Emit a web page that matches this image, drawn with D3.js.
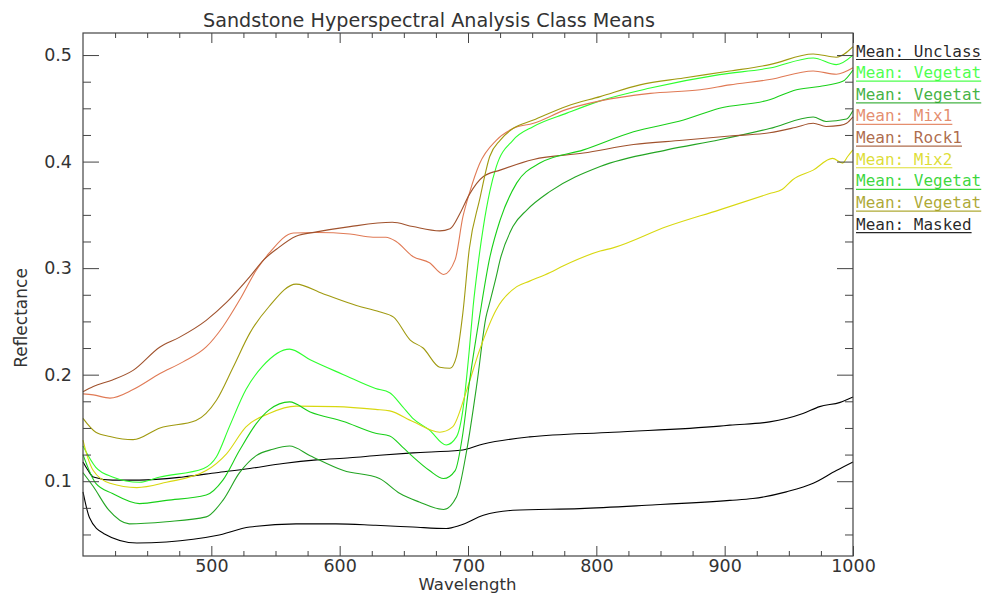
<!DOCTYPE html>
<html><head><meta charset="utf-8">
<script src="https://cdn.jsdelivr.net/npm/d3@7"></script>
<style>
html,body{margin:0;padding:0;background:#fff;}
svg{display:block;}
</style></head>
<body>
<svg id="chart" width="991" height="597"></svg>
<script>
// ---- data (wavelength nm, reflectance) ----
const unclass = [[400,0.118],[404,0.110],[408,0.104],[423,0.101],[444,0.101],[478,0.104],[504,0.108],[530,0.112],[556,0.1166],[582,0.120],[608,0.122],[631,0.1244],[657,0.1266],[694,0.129],[712,0.135],[748,0.1416],[813,0.146],[896,0.1517],[904,0.1526],[935,0.1557],[961,0.1636],[974,0.170],[990,0.174],[1000,0.179]];
const vegetatA = [[400,0.133],[410,0.113],[423,0.104],[444,0.099],[460,0.104],[494,0.112],[504,0.123],[514,0.151],[527,0.186],[540,0.208],[561,0.224],[577,0.214],[603,0.200],[628,0.187],[639,0.183],[649,0.170],[657,0.159],[670,0.148],[683,0.134],[691,0.1416],[696,0.1667],[701,0.223],[704,0.264],[708,0.305],[712,0.339],[717,0.372],[722,0.395],[735,0.420],[751,0.433],[777,0.4455],[803,0.457],[842,0.469],[896,0.4816],[935,0.4878],[969,0.4973],[987,0.491],[1000,0.500]];
const vegetatB = [[400,0.108],[408,0.095],[420,0.073],[436,0.060],[465,0.062],[496,0.0665],[509,0.082],[522,0.108],[535,0.124],[548,0.130],[561,0.133],[577,0.124],[603,0.110],[631,0.1025],[647,0.0884],[662,0.0805],[681,0.0734],[691,0.0852],[699,0.129],[707,0.192],[714,0.254],[717,0.268],[722,0.292],[725,0.3077],[735,0.339],[746,0.3547],[764,0.372],[803,0.3954],[855,0.411],[896,0.4205],[935,0.431],[969,0.4418],[979,0.4377],[995,0.440],[1000,0.448]];
const mix1 = [[400,0.182],[408,0.181],[421,0.178],[439,0.186],[460,0.201],[478,0.212],[496,0.226],[509,0.245],[522,0.270],[535,0.298],[545,0.314],[564,0.333],[582,0.3334],[608,0.332],[626,0.329],[636,0.329],[644,0.325],[657,0.311],[670,0.305],[681,0.294],[690,0.308],[696,0.348],[701,0.370],[709,0.398],[722,0.420],[735,0.431],[751,0.436],[777,0.449],[803,0.457],[842,0.464],[881,0.4675],[904,0.472],[935,0.477],[969,0.485],[987,0.482],[1000,0.488]];
const rock1 = [[400,0.184],[408,0.189],[423,0.195],[439,0.204],[460,0.226],[475,0.235],[496,0.251],[512,0.268],[530,0.292],[541,0.308],[551,0.318],[566,0.330],[582,0.334],[608,0.339],[641,0.343],[657,0.339],[678,0.335],[686,0.337],[694,0.352],[701,0.369],[712,0.386],[725,0.392],[751,0.402],[790,0.408],[829,0.416],[867,0.420],[904,0.424],[935,0.427],[955,0.432],[969,0.436],[979,0.433],[990,0.434],[995,0.436],[1000,0.442]];
const mix2 = [[400,0.1385],[403,0.125],[408,0.110],[421,0.098],[442,0.094],[465,0.099],[496,0.110],[512,0.126],[527,0.151],[545,0.1636],[566,0.1705],[597,0.170],[628,0.1674],[639,0.166],[657,0.156],[678,0.146],[688,0.151],[699,0.1855],[709,0.223],[722,0.261],[738,0.2826],[748,0.2878],[764,0.296],[774,0.302],[803,0.316],[813,0.319],[855,0.339],[896,0.3547],[935,0.370],[945,0.374],[953,0.383],[969,0.392],[984,0.403],[992,0.3986],[996,0.405],[1000,0.411]];
const vegetatC = [[400,0.125],[410,0.098],[423,0.0885],[444,0.079],[465,0.082],[496,0.087],[509,0.101],[522,0.129],[535,0.154],[545,0.167],[561,0.1745],[577,0.165],[603,0.156],[628,0.145],[639,0.1425],[649,0.132],[657,0.123],[670,0.110],[681,0.1025],[690,0.110],[696,0.1448],[701,0.192],[709,0.2544],[717,0.310],[725,0.345],[738,0.380],[756,0.3986],[790,0.411],[829,0.428],[868,0.439],[896,0.450],[935,0.458],[956,0.4675],[974,0.4705],[992,0.4753],[1000,0.486]];
const vegetatD = [[400,0.159],[410,0.146],[421,0.142],[439,0.139],[460,0.150],[488,0.157],[504,0.176],[517,0.207],[530,0.239],[545,0.264],[566,0.285],[587,0.276],[613,0.265],[631,0.259],[642,0.254],[655,0.2325],[665,0.225],[678,0.207],[686,0.206],[691,0.217],[696,0.258],[701,0.318],[709,0.364],[717,0.405],[725,0.420],[735,0.431],[751,0.439],[777,0.452],[803,0.461],[834,0.472],[868,0.4785],[904,0.485],[935,0.491],[969,0.501],[987,0.498],[1000,0.508]];
const masked = [[400,0.090],[405,0.066],[416,0.051],[442,0.042],[465,0.043],[504,0.049],[530,0.057],[566,0.060],[597,0.060],[628,0.0586],[657,0.057],[683,0.0556],[694,0.0586],[712,0.068],[735,0.0727],[787,0.0743],[839,0.0774],[904,0.082],[922,0.0837],[948,0.090],[969,0.098],[987,0.110],[1000,0.118]];

const legendLabels = ["Mean: Unclass","Mean: Vegetat","Mean: Vegetat","Mean: Mix1","Mean: Rock1","Mean: Mix2","Mean: Vegetat","Mean: Vegetat","Mean: Masked"];
const seriesColors = ["#000000","#2eff2e","#23a523","#e07a55","#a0522d","#d8d810","#18d018","#a09a10","#000000"];
const seriesData = [unclass, vegetatA, vegetatB, mix1, rock1, mix2, vegetatC, vegetatD, masked];

const xMajor = [500,600,700,800,900,1000];
const xMinor = [425,450,475,525,550,575,625,650,675,725,750,775,825,850,875,925,950,975];
const yMajor = [0.1,0.2,0.3,0.4,0.5];
const yMinor = [0.05,0.075,0.125,0.15,0.175,0.225,0.25,0.275,0.325,0.35,0.375,0.425,0.45,0.475];

// ---- drawing ----
const svg = d3.select("#chart");
const L = 83, R = 853, T = 33, B = 556;
const x = d3.scaleLinear().domain([400,1000]).range([L,R]);
const y = d3.scaleLinear().domain([0.0298,0.5207]).range([B,T]);
const axisColor = "#444";
const font = "'DejaVu Sans', sans-serif";

svg.append("rect").attr("width",991).attr("height",597).attr("fill","#fff");

const line = d3.line().x(d=>x(d[0])).y(d=>y(d[1])).curve(d3.curveMonotoneX);
const g = svg.append("g");
seriesData.forEach((s,i)=>{
  g.append("path").datum(s).attr("d",line).attr("fill","none")
   .attr("stroke",seriesColors[i]).attr("stroke-width",1.1);
});

function styleAxis(sel){
  sel.select(".domain").remove();
  sel.selectAll("line").attr("stroke",axisColor);
  sel.selectAll("text").attr("fill","#333").style("font-family",font).style("font-size","17.5px");
}
svg.append("g").attr("transform",`translate(0,${B})`)
  .call(d3.axisBottom(x).tickValues(xMajor).tickSize(-10).tickPadding(4).tickFormat(d3.format("d"))).call(styleAxis);
svg.append("g").attr("transform",`translate(0,${B})`)
  .call(d3.axisBottom(x).tickValues(xMinor).tickSize(-5).tickFormat("")).call(styleAxis);
svg.append("g").attr("transform",`translate(0,${T})`)
  .call(d3.axisTop(x).tickValues(xMajor).tickSize(-10).tickFormat("")).call(styleAxis);
svg.append("g").attr("transform",`translate(0,${T})`)
  .call(d3.axisTop(x).tickValues(xMinor).tickSize(-5).tickFormat("")).call(styleAxis);
svg.append("g").attr("transform",`translate(${L},0)`)
  .call(d3.axisLeft(y).tickValues(yMajor).tickSize(-16).tickPadding(11).tickFormat(d3.format(".1f"))).call(styleAxis);
svg.append("g").attr("transform",`translate(${L},0)`)
  .call(d3.axisLeft(y).tickValues(yMinor).tickSize(-8).tickFormat("")).call(styleAxis);
svg.append("g").attr("transform",`translate(${R},0)`)
  .call(d3.axisRight(y).tickValues(yMajor).tickSize(-16).tickFormat("")).call(styleAxis);
svg.append("g").attr("transform",`translate(${R},0)`)
  .call(d3.axisRight(y).tickValues(yMinor).tickSize(-8).tickFormat("")).call(styleAxis);

svg.append("rect").attr("x",L).attr("y",T).attr("width",R-L).attr("height",B-T)
  .attr("fill","none").attr("stroke",axisColor).attr("stroke-width",1.2);

// title & axis labels
svg.append("text").attr("x",429).attr("y",26.5).attr("text-anchor","middle")
  .attr("textLength",452).attr("lengthAdjust","spacingAndGlyphs")
  .style("font-family",font).style("font-size","19px").attr("fill","#333")
  .text("Sandstone Hyperspectral Analysis Class Means");
svg.append("text").attr("x",467.5).attr("y",590).attr("text-anchor","middle")
  .style("font-family",font).style("font-size","16.5px").attr("fill","#333").text("Wavelength");
svg.append("text").attr("transform","translate(27,318) rotate(-90)").attr("text-anchor","middle")
  .style("font-family",font).style("font-size","17px").attr("fill","#333").text("Reflectance");

// legend
const lg = svg.append("g");
legendLabels.forEach((t,i)=>{
  const by = 56.5 + i*21.65;
  const tx = lg.append("text").attr("x",856).attr("y",by)
    .style("font-family","'DejaVu Sans Mono', monospace").style("font-size","16px")
    .attr("fill",seriesColors[i]).attr("fill-opacity",0.85).text(t);
  const w = tx.node().getComputedTextLength();
  lg.append("line").attr("x1",856).attr("x2",856+w).attr("y1",by+3).attr("y2",by+3)
    .attr("stroke",seriesColors[i]).attr("stroke-opacity",0.85).attr("stroke-width",1.2);
});
</script>
</body></html>
